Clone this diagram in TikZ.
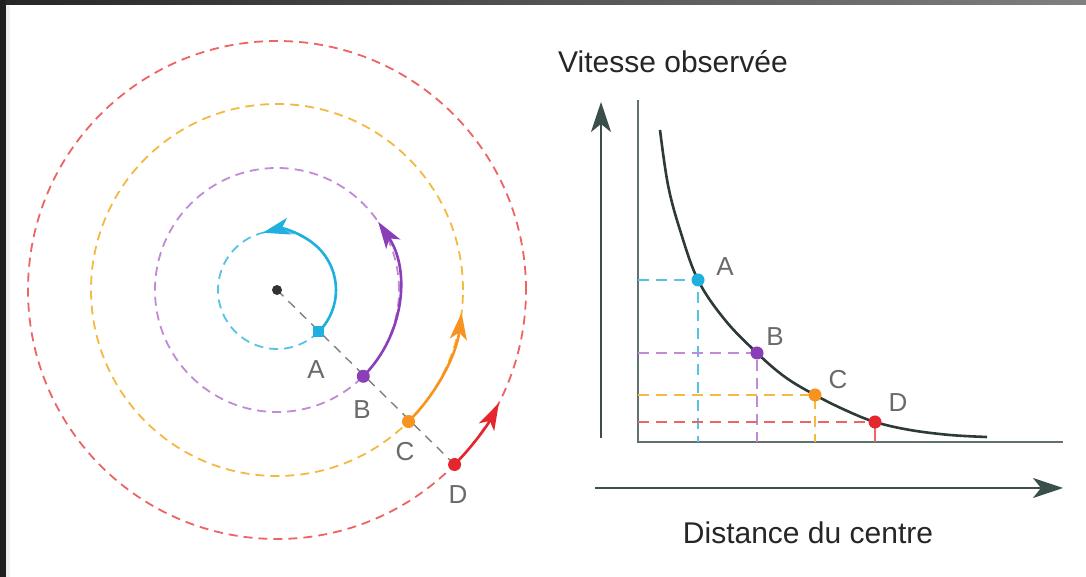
\documentclass[tikz,border=0pt]{standalone}
\usepackage{fontspec}
\setmainfont{Liberation Sans}
\usetikzlibrary{arrows.meta,calc}
\definecolor{cyanC}{HTML}{1FB0E0}
\definecolor{cyanL}{HTML}{55C3E3}
\definecolor{purpC}{HTML}{8A3FB8}
\definecolor{purpL}{HTML}{C28AD6}
\definecolor{oranC}{HTML}{F7931E}
\definecolor{oranL}{HTML}{F5B840}
\definecolor{redC}{HTML}{E5262D}
\definecolor{redL}{HTML}{EC6464}
\definecolor{axisC}{HTML}{3A4E4A}
\definecolor{curveC}{HTML}{2E3A37}
\definecolor{labC}{HTML}{6A6A6A}
\begin{document}
\begin{tikzpicture}[x=1pt,y=1pt,
  orbit/.style={line width=1.8pt,dash pattern=on 9pt off 6pt},
  motion/.style={line width=2.6pt,-{Stealth[length=27pt,width=17pt,inset=7pt]}},
  guide/.style={line width=1.4pt,dash pattern=on 11pt off 7pt},
  lab/.style={font=\fontsize{26}{26}\selectfont,text=labC,inner sep=0pt},
  title/.style={font=\fontsize{30}{30}\selectfont,text=black!85,inner sep=0pt},
  dot/.style={circle,inner sep=0pt,minimum size=13pt},
  axarrow/.style={line width=2.8pt,draw=axisC,-{Stealth[length=30pt,width=20pt,inset=8pt]}},
  thinaxis/.style={line width=1.2pt,draw=axisC!80}]
% background and frame
\fill[white] (0,0) rectangle (1086,577);
\useasboundingbox (0,0) rectangle (1086,577);
\shade[left color=black!85,right color=black!50] (0,572) rectangle (1086,577);
\fill[black!88] (0,0) rectangle (6,577);
\fill[black!6] (6,0) rectangle (10,572);
% ---------- orbits ----------
\coordinate (O) at (277,287);
\coordinate (A) at ($(O)+(-45:59)$);
\coordinate (B) at ($(O)+(-45:122)$);
\coordinate (C) at ($(O)+(-45:186)$);
\coordinate (D) at ($(O)+(-44.5:249)$);
\draw[orbit,draw=cyanL] (O) circle[radius=59];
\draw[orbit,draw=purpL] (O) circle[radius=122];
\draw[orbit,draw=oranL] (O) circle[radius=186];
\draw[orbit,draw=redL] (O) circle[radius=249];
\draw[line width=1.4pt,draw=black!50,dash pattern=on 9pt off 7pt] (O) -- (D);
\draw[motion,draw=cyanC] (A) arc[start angle=-45,end angle=104,radius=59];
\draw[motion,draw=purpC] (B) arc[start angle=-45,end angle=34,radius=122];
\draw[motion,draw=oranC] (C) arc[start angle=-45,end angle=-7,radius=186];
\draw[motion,draw=redC] (D) arc[start angle=-44.5,end angle=-27,radius=249];
\fill[black!80] (O) circle[radius=5];
\node[fill=cyanC,minimum size=11pt,inner sep=0pt] (mA) at (A) {};
\node[dot,fill=purpC] (mB) at (B) {};
\node[dot,fill=oranC] (mC) at (C) {};
\node[dot,fill=redC] (mD) at (D) {};
\node[lab] (lA) at (316,207) {A};
\node[lab] (lB) at (362,167) {B};
\node[lab] (lC) at (405,125) {C};
\node[lab] (lD) at (458,82) {D};
% ---------- graph ----------
\coordinate (Yt) at (638,477);
\coordinate (G0) at (638,135);
\coordinate (Xr) at (1063,135);
\draw[thinaxis] (Yt) -- (G0) -- (Xr);
\coordinate (VA0) at (601,139);
\coordinate (VA1) at (601,475);
\draw[axarrow] (VA0) -- (VA1);
\coordinate (HA0) at (595,89);
\coordinate (HA1) at (1063,89);
\draw[axarrow] (HA0) -- (HA1);
\coordinate (gA) at (698,297);
\coordinate (gB) at (757,224);
\coordinate (gC) at (815,182);
\coordinate (gD) at (875,155);
\draw[guide,draw=cyanL] (gA -| G0) -- (gA) -- (gA |- G0);
\draw[guide,draw=purpL] (gB -| G0) -- (gB) -- (gB |- G0);
\draw[guide,draw=oranL] (gC -| G0) -- (gC) -- (gC |- G0);
\draw[guide,draw=redL] (gD -| G0) -- (gD);
\draw[line width=1.4pt,draw=redL] (gD) -- (gD |- G0);
\draw[line width=2.6pt,draw=curveC] plot[smooth,tension=0.6] coordinates {
 (660,447) (668,392) (680,347) (698,297) (725,257) (757,224) (785,200)
 (815,182) (845,167) (875,155) (910,147) (950,142) (987,140)};
\node[dot,fill=cyanC] (pA) at (gA) {};
\node[dot,fill=purpC] (pB) at (gB) {};
\node[dot,fill=oranC] (pC) at (gC) {};
\node[dot,fill=redC] (pD) at (gD) {};
\node[lab] (gAl) at (725,310) {A};
\node[lab] (gBl) at (775,240) {B};
\node[lab] (gCl) at (838,197) {C};
\node[lab] (gDl) at (898,174) {D};
\node[title] (vt) at (673,515) {Vitesse observée};
\node[title] (dt) at (808,44) {Distance du centre};
\end{tikzpicture}
\end{document}
